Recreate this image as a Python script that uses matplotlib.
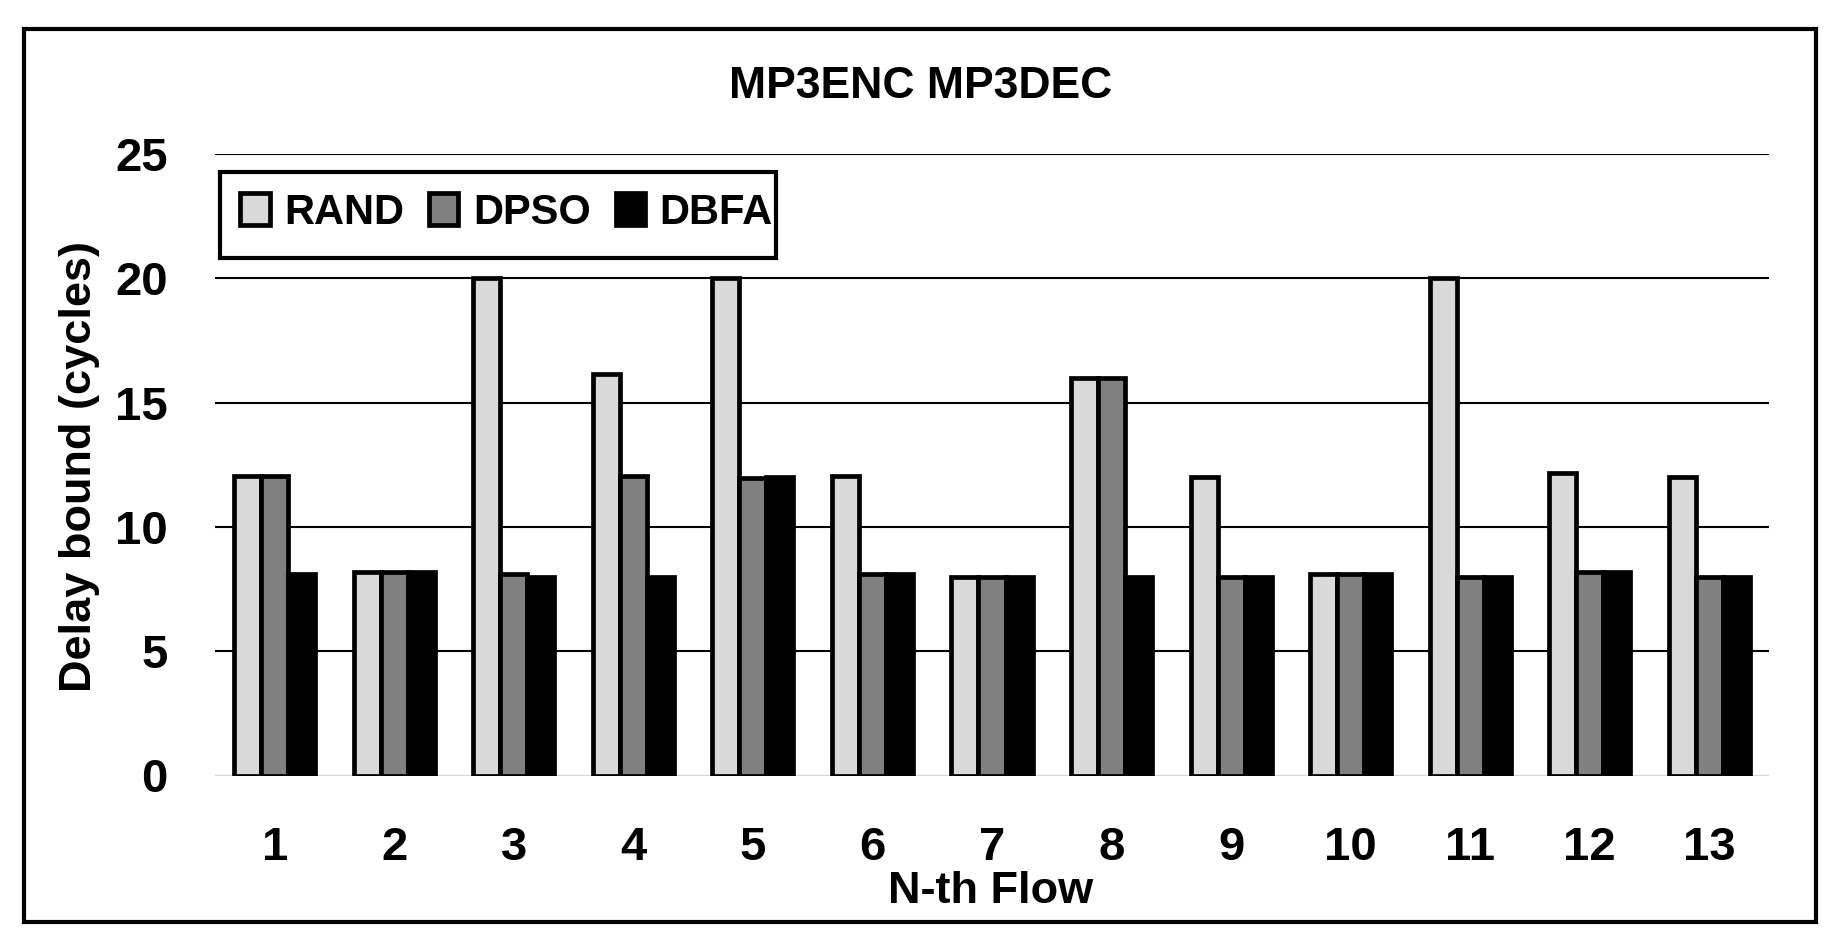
import matplotlib
matplotlib.use("Agg")
import matplotlib.pyplot as plt
import numpy as np
from matplotlib.patches import Rectangle

plt.rcParams['font.family'] = ['Liberation Sans', 'DejaVu Sans']
plt.rcParams['font.weight'] = 'bold'

# data
flows = [str(i) for i in range(1, 14)]
rand = [12.05, 8.2, 20.0, 16.15, 20.0, 12.05, 8.0, 16.0, 12.0, 8.1, 20.0, 12.15, 12.0]
dpso = [12.05, 8.2, 8.1, 12.05, 11.95, 8.1, 8.0, 16.0, 8.0, 8.1, 8.0, 8.2, 8.0]
dbfa = [8.1, 8.2, 8.0, 8.0, 12.0, 8.1, 8.0, 8.0, 8.0, 8.1, 8.0, 8.2, 8.0]
series = ["RAND", "DPSO", "DBFA"]
colors = ["#d9d9d9", "#808080", "#000000"]
yticks = [0, 5, 10, 15, 20, 25]

W, H = 1840, 952
fig = plt.figure(figsize=(W / 100, H / 100), dpi=100)
ax = fig.add_axes([215 / W, 1 - 775.5 / H, (1769 - 215) / W, (775.5 - 154) / H])

x = np.arange(1, len(flows) + 1)
w = 0.226
for i, (name, vals, c) in enumerate(zip(series, [rand, dpso, dbfa], colors)):
    ax.bar(x + (i - 1) * w, vals, width=w, color=c, edgecolor="black",
           linewidth=3.4, label=name, zorder=3)

ax.set_xlim(0.5, 13.5)
ax.set_ylim(0, 25)
ax.set_yticks(yticks)
ax.set_xticks(x)
ax.set_xticklabels(flows)
for yv in yticks[1:]:
    ax.axhline(yv, color="black", lw=1.5, zorder=1)
ax.axhline(0, color="#d9d9d9", lw=1.6, zorder=2)
for s in ax.spines.values():
    s.set_visible(False)
ax.tick_params(axis="both", length=0, labelsize=34)
ax.tick_params(axis="y", pad=34)
ax.tick_params(axis="x", pad=36)
for lab in ax.get_xticklabels() + ax.get_yticklabels():
    lab.set_fontweight("bold")

leg = ax.legend(loc="upper left", bbox_to_anchor=(0.003, 0.971), borderaxespad=0,
                ncol=3, fontsize=30, frameon=False,
                handlelength=0.7, handleheight=0.8,
                handletextpad=0.35, columnspacing=0.6, borderpad=0.5)
for t in leg.get_texts():
    t.set_fontweight("bold")
# legend box (tighter on the right than matplotlib's symmetric padding)
ax.add_patch(Rectangle((0.0032, 0.8327), 0.361 - 0.0032, 0.971 - 0.8327,
                       transform=ax.transAxes, fill=False, edgecolor="black",
                       linewidth=3.0, zorder=5, clip_on=False))

fig.text(921 / W, 1 - 86 / H, "MP3ENC MP3DEC", ha="center", va="center",
         fontsize=32, fontweight="bold")
fig.text(80 / W, 1 - 466 / H, "Delay bound (cycles)", ha="center", va="center",
         rotation=90, fontsize=32.5, fontweight="bold")
fig.text(991 / W, 1 - 903 / H, "N-th Flow", ha="center", va="baseline",
         fontsize=32.5, fontweight="bold")

# outer chart border
fig.patches.append(Rectangle((23.5 / W, 1 - 922 / H), (1816 - 23.5) / W, (922 - 29) / H,
                             transform=fig.transFigure, fill=False,
                             edgecolor="black", linewidth=3.0))

fig.savefig("out.png", dpi=100)
